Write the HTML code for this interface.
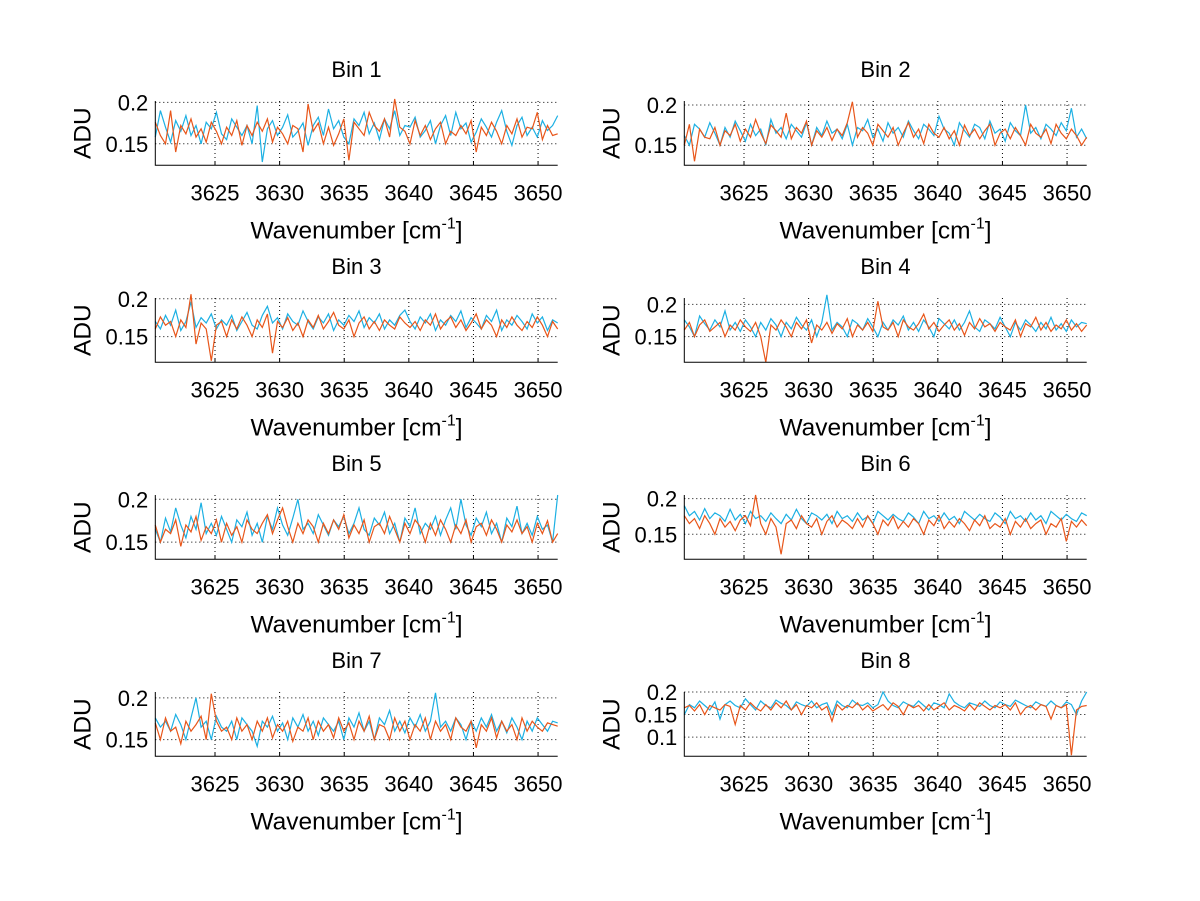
<!DOCTYPE html>
<html><head><meta charset="utf-8"><style>
html,body{margin:0;padding:0;background:#fff;}
svg{display:block;font-family:"Liberation Sans",sans-serif;}
</style></head><body>
<svg id="fig" width="1200" height="901" viewBox="0 0 1200 901"></svg>
<script>
// values in thousandths of ADU, sampled evenly across the x range
const xMin = 3620.38, xMax = 3651.52;
const xTicks = [3625, 3630, 3635, 3640, 3645, 3650];
const binTitles = ["Bin 1","Bin 2","Bin 3","Bin 4","Bin 5","Bin 6","Bin 7","Bin 8"];
const yRanges = [[0.124,0.2016],[0.125,0.205],[0.116,0.201],[0.11,0.21],[0.13,0.205],[0.115,0.205],[0.13,0.207],[0.0575,0.2]];
const yTicks = [[0.15,0.2],[0.15,0.2],[0.15,0.2],[0.15,0.2],[0.15,0.2],[0.15,0.2],[0.15,0.2],[0.1,0.15,0.2]];
const cyan1 = [158,190,170,152,178,165,184,160,172,150,176,168,188,162,155,180,170,160,172,150,196,128,168,178,160,170,185,158,165,175,148,172,182,160,192,168,178,158,150,180,172,188,162,175,155,180,168,190,160,172,170,182,158,166,178,150,172,184,160,188,168,175,152,164,180,170,158,176,190,165,148,172,182,160,170,158,178,166,172,184];
const orange1 = [176,160,150,190,140,172,162,180,158,168,152,176,165,150,170,160,178,148,172,160,176,165,180,152,170,162,150,172,168,140,198,165,175,150,170,148,162,180,130,176,168,160,188,172,165,180,158,204,170,165,150,178,160,172,155,168,176,150,165,160,172,162,178,140,170,160,176,165,150,172,162,180,158,170,168,188,155,172,160,162];
const cyan2 = [162,150,176,170,160,178,165,150,172,160,180,168,155,176,162,170,150,182,165,172,158,176,168,160,178,150,172,162,180,165,170,158,176,150,172,168,182,160,170,155,178,165,172,160,180,168,158,176,170,162,186,170,165,150,178,168,160,176,172,158,180,165,170,155,178,168,162,200,165,172,158,176,170,162,178,168,196,160,170,158];
const orange2 = [150,176,130,170,160,158,172,150,168,162,176,155,170,160,182,165,152,175,168,160,190,158,172,165,180,150,168,160,172,156,170,162,178,204,160,172,165,150,176,168,160,172,150,165,178,160,170,152,176,165,160,172,158,168,150,175,162,170,158,168,176,150,165,170,158,172,162,150,176,165,160,170,152,176,165,158,170,162,150,160];
const cyan3 = [170,160,178,165,185,158,170,196,162,175,168,180,160,172,165,178,158,170,182,165,160,178,190,168,175,160,180,170,165,184,170,160,176,168,180,158,172,165,178,170,184,162,175,168,180,160,172,165,178,185,170,160,176,168,180,158,172,165,178,170,184,162,175,168,160,178,170,185,158,172,165,178,170,160,180,168,176,158,172,168];
const orange3 = [160,176,165,170,150,172,162,206,140,168,160,118,165,170,150,172,160,176,165,150,172,162,180,128,170,162,175,158,168,150,172,162,178,160,170,182,165,160,172,150,168,176,160,170,158,172,165,160,176,168,162,170,158,172,165,180,160,170,176,162,172,158,168,180,160,172,165,150,172,162,176,165,158,170,162,176,165,150,170,160];
const cyan4 = [176,165,150,182,170,160,176,165,190,160,172,158,176,165,150,172,160,178,168,150,172,162,180,168,160,176,150,172,215,160,172,165,150,176,170,160,178,165,150,172,160,176,168,182,160,172,158,176,165,150,178,170,162,176,160,172,190,165,158,176,170,162,180,165,150,172,160,176,168,158,172,162,180,160,170,158,176,165,172,170];
const orange4 = [160,172,150,168,176,158,165,172,150,168,160,176,165,158,172,150,110,168,160,176,165,150,172,162,176,140,168,160,172,155,170,162,178,150,168,160,172,158,205,165,160,172,150,176,165,160,170,185,162,172,158,168,176,160,170,152,172,162,178,165,170,158,172,165,160,176,150,170,165,180,160,172,158,168,162,176,160,170,158,168];
const cyan5 = [165,150,178,162,190,170,155,180,165,196,160,172,158,180,165,150,176,168,185,158,172,150,180,165,190,170,158,178,200,165,172,160,182,170,158,176,168,180,160,172,190,165,158,178,170,185,160,172,150,178,168,190,160,172,165,180,158,176,190,165,200,170,158,178,168,185,160,172,150,178,168,192,160,172,158,180,165,170,150,205];
const orange5 = [170,150,165,160,176,145,170,162,180,152,168,160,176,150,172,158,168,150,176,165,160,172,182,160,176,190,168,150,172,160,176,168,150,172,160,176,165,182,155,170,160,176,150,168,172,160,180,165,150,172,160,176,168,150,172,158,176,165,150,170,160,176,150,168,172,158,176,165,150,170,162,176,160,168,150,172,160,175,150,160];
const cyan6 = [190,176,182,170,186,172,180,176,168,185,170,178,165,182,172,176,168,180,172,165,178,170,185,172,165,180,176,170,178,165,182,172,176,168,180,170,175,165,182,176,170,178,172,168,180,174,165,182,172,176,168,180,170,175,165,182,176,170,178,172,168,180,174,165,182,172,176,168,180,170,176,165,182,176,170,178,172,168,180,176];
const orange6 = [176,165,172,158,176,165,150,172,160,168,155,170,176,162,205,165,150,172,160,122,165,170,158,176,165,160,172,150,168,176,160,170,165,158,172,160,176,165,150,170,162,175,158,168,160,172,165,150,170,162,176,158,168,160,172,165,155,170,162,176,158,165,160,172,150,168,160,172,158,165,170,150,165,160,172,140,168,160,170,162];
const cyan7 = [176,165,172,160,180,168,150,176,200,165,172,150,178,165,160,172,150,176,168,160,142,172,165,178,160,170,150,176,165,180,160,172,155,176,168,160,172,150,176,165,182,160,172,150,176,168,185,160,172,158,176,165,180,160,172,206,165,172,160,176,168,150,172,160,176,165,180,160,172,158,176,165,150,172,160,176,168,160,172,170];
const orange7 = [170,150,176,160,165,145,172,160,168,178,150,205,172,160,165,150,176,160,168,150,172,160,176,152,168,160,172,148,165,160,176,150,172,160,168,152,176,160,170,150,172,160,178,150,168,165,150,176,160,172,150,168,160,176,150,172,160,168,150,176,165,160,172,140,168,160,176,152,172,160,168,150,176,160,172,165,160,170,168,166];
const cyan8 = [150,172,165,180,170,160,178,140,172,180,170,165,185,172,160,180,170,165,182,175,170,160,178,172,168,180,165,172,176,150,180,170,165,182,172,170,176,165,172,200,180,170,165,178,172,168,180,170,160,176,172,165,196,178,170,165,176,172,168,180,170,165,178,172,168,182,176,170,165,178,172,168,180,170,165,178,172,150,180,200];
const orange8 = [165,170,158,172,150,170,165,160,172,168,128,170,160,176,165,158,172,160,176,165,180,160,172,150,170,165,176,160,168,135,172,160,170,165,176,160,170,158,165,172,160,176,168,150,172,165,170,158,172,160,168,176,160,170,165,158,172,160,176,168,160,170,165,172,160,176,150,165,170,160,172,168,140,170,165,172,60,160,168,170];
const cyanSeries = [cyan1,cyan2,cyan3,cyan4,cyan5,cyan6,cyan7,cyan8];
const orangeSeries = [orange1,orange2,orange3,orange4,orange5,orange6,orange7,orange8];

const NS = "http://www.w3.org/2000/svg";
const svg = document.getElementById("fig");
function mk(tag, attrs, parent){ const e=document.createElementNS(NS,tag); for(const k in attrs) e.setAttribute(k,attrs[k]); (parent||svg).appendChild(e); return e; }

const colX = [155.3, 684.3];
const axW = 402.4;
const rowTop = [101, 298, 495, 692];
const axH = 64.3;

for (let i=0;i<8;i++){
  const c = i%2, r = Math.floor(i/2);
  const L = colX[c], T = rowTop[r], B = T+axH, R = L+axW;
  const [y0,y1] = yRanges[i];
  const xs = v => L + (v-xMin)/(xMax-xMin)*axW;
  const ys = v => B - (v-y0)/(y1-y0)*axH;
  const g = mk("g",{});
  
  
  xTicks.forEach(t=>{
    const x=xs(t);
    const gl = mk("line",{x1:x,x2:x,y1:T,y2:B,stroke:"#000","stroke-width":1,"stroke-dasharray":"1,3"},g);
    
    
    const tk = mk("line",{x1:x,x2:x,y1:B,y2:B-4,stroke:"#000","stroke-width":1},g);
    
    
    const tl = mk("text",{x:x,y:B+35,"font-size":22,"text-anchor":"middle"},g);
    tl.textContent = t;
    
    
  });
  yTicks[i].forEach(t=>{
    const y=ys(t);
    const gl = mk("line",{x1:L,x2:R,y1:y,y2:y,stroke:"#000","stroke-width":1,"stroke-dasharray":"1,3"},g);
    
    
    const tl = mk("text",{x:L-7,y:y+8,"font-size":22,"text-anchor":"end"},g);
    tl.textContent = String(t);
    
    
  });
  [[cyanSeries[i],"#1cb0e3","cyan-series"],[orangeSeries[i],"#e8561a","orange-series"]].forEach(([arr,col,nm])=>{
    const n = arr.length;
    const pts = arr.map((v,k)=> xs(xMin + k*(xMax-xMin)/(n-1)).toFixed(1)+","+ys(v/1000).toFixed(1)).join(" ");
    const pl = mk("polyline",{points:pts,fill:"none",stroke:col,"stroke-width":1.2},g);
    
    
  });
  const ax = mk("path",{d:`M${L},${T} V${B} H${R}`,fill:"none",stroke:"#000","stroke-width":1},g);
  
  
  const title = mk("text",{x:L+axW/2,y:T-24,"font-size":22,"text-anchor":"middle"},g);
  title.textContent = binTitles[i];
  
  
  const xl = mk("text",{x:L+axW/2,y:B+73,"font-size":24.5,"text-anchor":"middle"},g);
  xl.innerHTML = 'Wavenumber [cm<tspan dy="-10" font-size="16">-1</tspan><tspan dy="10">]</tspan>';
  
  
  const yl = mk("text",{x:0,y:0,"font-size":24.5,"text-anchor":"middle",transform:`translate(${L-65},${T+axH/2}) rotate(-90)`},g);
  yl.textContent = "ADU";
  
  
}
</script>
</body></html>
